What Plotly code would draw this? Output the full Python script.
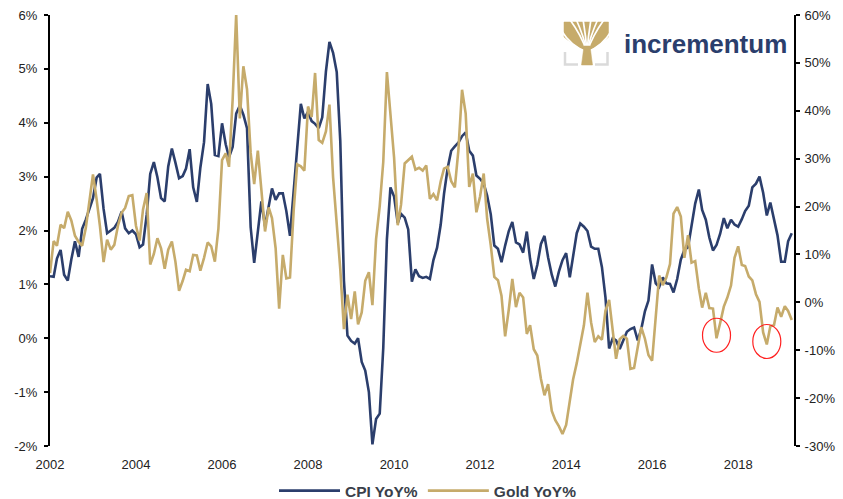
import plotly.graph_objects as go
import pandas as pd

# ---------------- data ----------------
start_month = "2002-01-01"
n_months = 208  # Jan 2002 .. Apr 2019

cpi_yoy = [
    1.15, 1.14, 1.48, 1.64, 1.18, 1.07, 1.46, 1.80, 1.51, 2.03, 2.20, 2.38,   # 2002
    2.60, 2.98, 3.05, 2.40, 1.95, 2.00, 2.05, 2.16, 2.35, 2.04, 1.95, 2.00,   # 2003
    1.93, 1.69, 1.74, 2.29, 3.05, 3.27, 2.99, 2.60, 2.54, 3.19, 3.52, 3.26,   # 2004
    2.97, 3.01, 3.15, 3.51, 2.80, 2.53, 3.17, 3.64, 4.72, 4.35, 3.40, 3.38,   # 2005
    3.99, 3.60, 3.36, 3.55, 4.17, 4.32, 4.15, 3.90, 2.06, 1.40, 1.97, 2.54,   # 2006
    2.08, 2.42, 2.78, 2.57, 2.69, 2.69, 2.36, 1.90, 2.76, 3.54, 4.35, 4.08,   # 2007
    4.20, 4.03, 3.98, 3.90, 4.10, 4.95, 5.50, 5.30, 4.94, 3.66, 1.07, 0.05,   # 2008
    -0.05, -0.10, 0.00, -0.44, -0.60, -1.00, -1.97, -1.50, -1.40, -0.18, 1.84, 2.80,  # 2009
    2.63, 2.14, 2.31, 2.24, 2.02, 1.05, 1.28, 1.15, 1.12, 1.14, 1.10, 1.45,   # 2010
    1.68, 2.11, 2.68, 3.16, 3.48, 3.56, 3.63, 3.75, 3.82, 3.48, 3.39, 3.02,   # 2011
    2.96, 2.87, 2.65, 2.30, 1.72, 1.66, 1.41, 1.72, 1.99, 2.16, 1.78, 1.74,   # 2012
    1.59, 1.98, 1.47, 1.10, 1.36, 1.75, 1.90, 1.50, 1.18, 0.96, 1.24, 1.45,   # 2013
    1.58, 1.13, 1.51, 1.95, 2.13, 2.07, 1.99, 1.70, 1.66, 1.66, 1.32, 0.76,   # 2014
    -0.19, 0.00, -0.04, -0.20, -0.04, 0.12, 0.17, 0.20, -0.04, 0.17, 0.50, 0.70,  # 2015
    1.37, 1.02, 0.95, 1.13, 1.02, 1.01, 0.85, 1.10, 1.46, 1.64, 1.69, 2.07,   # 2016
    2.50, 2.76, 2.38, 2.20, 1.87, 1.63, 1.73, 1.94, 2.23, 2.04, 2.20, 2.11,   # 2017
    2.07, 2.21, 2.36, 2.46, 2.80, 2.87, 3.00, 2.70, 2.28, 2.52, 2.18, 1.91,   # 2018
    1.42, 1.42, 1.80, 1.95,                                                   # 2019
]

gold_yoy = [
    6.1, 12.8, 11.8, 16.2, 15.5, 18.9, 17.1, 13.9, 12.6, 11.8, 15.5, 20.7,    # 2002
    26.7, 21.5, 15.9, 8.4, 13.1, 11.0, 12.0, 16.0, 18.7, 19.7, 22.2, 22.4,    # 2003
    16.0, 12.9, 19.4, 22.8, 7.9, 10.1, 13.4, 11.3, 7.0, 11.0, 12.7, 8.5,      # 2004
    2.4, 4.5, 6.8, 6.5, 9.9, 9.8, 6.6, 9.3, 12.5, 11.7, 8.5, 15.4,            # 2005
    29.7, 31.1, 28.3, 42.3, 60.1, 38.4, 49.3, 44.5, 31.2, 24.7, 31.7, 23.5,   # 2006
    14.8, 19.8, 17.6, 11.3, -1.3, 9.9, 5.0, 5.2, 19.1, 28.8, 28.4, 27.5,      # 2007
    40.9, 38.7, 47.9, 33.9, 33.3, 35.7, 41.3, 26.1, 16.4, 6.9, -5.6, 1.6,     # 2008
    -3.5, 2.3, -4.6, -2.1, 4.5, 6.3, -0.6, 13.2, 20.1, 29.3, 48.1, 39.0,      # 2009
    30.2, 16.1, 20.4, 29.0, 29.8, 30.4, 27.7, 28.1, 27.5, 28.6, 21.6, 22.6,   # 2010
    21.3, 25.3, 27.9, 28.3, 25.3, 24.0, 31.8, 44.4, 39.4, 24.1, 26.9, 18.8,   # 2011
    22.1, 26.9, 17.5, 11.9, 5.3, 4.6, 1.4, -7.1, -1.5, 4.9, -1.0, 2.0,        # 2012
    1.0, -6.6, -4.8, -9.8, -11.1, -16.0, -19.4, -17.1, -22.7, -24.6, -25.9, -27.5,  # 2013
    -25.6, -20.1, -16.1, -12.7, -8.9, -4.8, 2.0, -4.2, -8.3, -7.1, -7.8, -1.7,  # 2014
    0.5, -5.6, -11.8, -7.7, -7.0, -7.6, -13.9, -13.7, -9.0, -5.2, -7.6, -11.0,  # 2015
    -12.2, -2.2, 5.6, 3.6, 5.2, 8.0, 18.5, 19.9, 17.9, 9.3, 14.0, 8.3,        # 2016
    8.6, 2.9, -1.1, 2.0, -1.2, -1.3, -7.5, -4.3, -0.9, 1.0, 3.5, 9.3,         # 2017
    11.7, 7.8, 7.6, 5.4, 4.6, 1.7, 0.1, -6.3, -8.8, -5.0, -4.8, -1.1,         # 2018
    -3.0, -0.8, -1.8, -3.7,                                                   # 2019
]

x_tick_years = [2002, 2004, 2006, 2008, 2010, 2012, 2014, 2016, 2018]
x_tick_labels = [str(y) for y in x_tick_years]
left_tick_vals = [-2, -1, 0, 1, 2, 3, 4, 5, 6]
left_tick_labels = ["-2%", "-1%", "0%", "1%", "2%", "3%", "4%", "5%", "6%"]
right_tick_vals = [-30, -20, -10, 0, 10, 20, 30, 40, 50, 60]
right_tick_labels = ["-30%", "-20%", "-10%", "0%", "10%", "20%", "30%", "40%", "50%", "60%"]
highlight_months = ["2017-07-01", "2018-09-01"]

# ---------------- styling ----------------
NAVY = "#2B3E6C"
GOLD = "#C6AB6B"
TXT = "#222222"
FONT = "Arial, Liberation Sans, sans-serif"

W, H = 843, 499
ML, MR, MT, MB = 50, 49, 15, 53
PW, PH = W - ML - MR, H - MT - MB

dates = pd.date_range(start_month, periods=n_months, freq="MS")
date_str = [d.strftime("%Y-%m-%d") for d in dates]

fig = go.Figure()
fig.add_trace(go.Scatter(x=date_str, y=cpi_yoy, name="<b>CPI YoY%</b>", mode="lines",
                         line=dict(color=NAVY, width=2.6), yaxis="y"))
fig.add_trace(go.Scatter(x=date_str, y=gold_yoy, name="<b>Gold YoY%</b>", mode="lines",
                         line=dict(color=GOLD, width=2.6), yaxis="y2"))

# red circles around the two gold dips
for m in highlight_months:
    i = date_str.index(m)
    fig.add_shape(type="circle", xref="x", yref="y2",
                  xsizemode="pixel", ysizemode="pixel",
                  xanchor=m, yanchor=gold_yoy[i],
                  x0=-14, x1=14, y0=-14, y1=20,
                  line=dict(color="#FF2020", width=1.2))

# ---------------- logo (decoration) ----------------
def px(xp):
    return (xp - ML) / PW

def py(yp):
    return (MT + PH - yp) / PH

# crown
crown = (f"M {px(564)} {py(22)} L {px(608.5)} {py(22)} L {px(608.5)} {py(37)} "
         f"Q {px(600)} {py(45)} {px(590)} {py(50)} L {px(584)} {py(50)} "
         f"Q {px(573)} {py(45)} {px(564)} {py(37)} Z")
fig.add_shape(type="path", xref="paper", yref="paper", path=crown,
              fillcolor=GOLD, line=dict(color=GOLD, width=0.5))
# white gaps between branches
ox, oy = 587, 52
gap_ends = [(569.5, 19), (576, 19), (583, 19), (591, 19), (598, 19), (604.5, 19),
            (561, 30), (612, 30)]
for ex, ey in gap_ends:
    side = ey > 25
    cx = ox + (ex - ox) * (0.6 if side else 0.3)
    cy = 47 if side else 36
    d = f"M {px(ox)} {py(oy)} Q {px(cx)} {py(cy)} {px(ex)} {py(ey)}"
    fig.add_shape(type="path", xref="paper", yref="paper", path=d,
                  line=dict(color="white", width=1.7))
trunk = (f"M {px(581.5)} {py(65)} L {px(584)} {py(46)} L {px(590)} {py(46)} "
         f"L {px(592.5)} {py(65)} Z")
fig.add_shape(type="path", xref="paper", yref="paper", path=trunk,
              fillcolor=GOLD, line=dict(color=GOLD, width=0.5))
for d in [f"M {px(565)} {py(52)} L {px(565)} {py(64.5)} L {px(578)} {py(64.5)}",
          f"M {px(607.5)} {py(52)} L {px(607.5)} {py(64.5)} L {px(595)} {py(64.5)}"]:
    fig.add_shape(type="path", xref="paper", yref="paper", path=d,
                  line=dict(color="#DADADA", width=2.5))

fig.add_annotation(xref="paper", yref="paper", x=px(622), y=py(44), xanchor="left",
                   yanchor="middle", showarrow=False,
                   text="<b>incrementum</b>",
                   font=dict(family=FONT, size=26, color=NAVY))

# ---------------- layout ----------------
fig.update_layout(
    width=W, height=H,
    margin=dict(l=ML, r=MR, t=MT, b=MB, autoexpand=False),
    paper_bgcolor="white", plot_bgcolor="white",
    font=dict(family=FONT, size=13, color=TXT),
    showlegend=True,
    legend=dict(orientation="h", xref="container", yref="container",
                x=428 / W, xanchor="center", y=(H - 491) / H, yanchor="middle",
                font=dict(family=FONT, size=15.5, color="#3A3F4A"),
                itemwidth=61, bgcolor="rgba(0,0,0,0)"),
    xaxis=dict(type="date", range=["2002-01-01", "2019-04-20"],
               tickvals=[f"{y}-01-01" for y in x_tick_years], ticktext=x_tick_labels,
               showgrid=False, zeroline=False, showline=False, ticks="",
               ticklabelstandoff=9,
               tickfont=dict(size=13, color=TXT)),
    yaxis=dict(range=[-2, 6], tickvals=left_tick_vals, ticktext=left_tick_labels,
               showgrid=False, zeroline=False, showline=True, linecolor="black",
               linewidth=2, ticks="outside", ticklen=4, tickwidth=2, tickcolor="black",
               ticklabelstandoff=4,
               tickfont=dict(size=13, color=TXT)),
    yaxis2=dict(range=[-30, 60], tickvals=right_tick_vals, ticktext=right_tick_labels,
                overlaying="y", side="right",
                showgrid=False, zeroline=False, showline=True, linecolor="black",
                linewidth=2, ticks="outside", ticklen=4, tickwidth=2, tickcolor="black",
                ticklabelstandoff=2,
                tickfont=dict(size=13, color=TXT)),
)

fig.write_html(
    "out.html",
    config={"displayModeBar": False},
    post_script="document.body.style.margin='0px';document.body.style.overflow='hidden';",
)
